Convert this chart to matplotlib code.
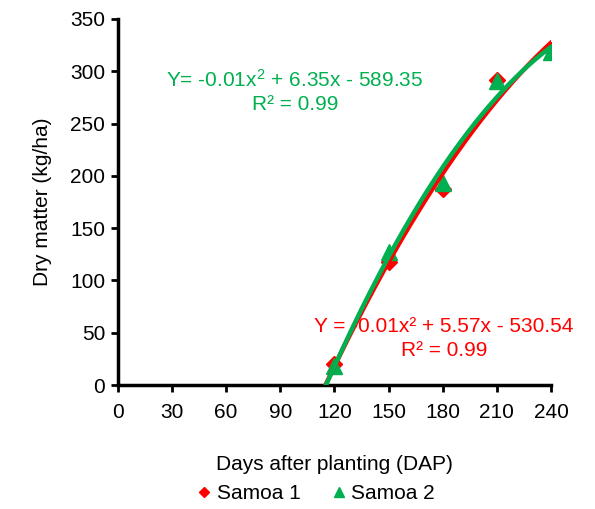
import numpy as np
import matplotlib
matplotlib.use("Agg")
import matplotlib.pyplot as plt

plt.rcParams['font.family'] = ['Liberation Sans', 'DejaVu Sans']
plt.rcParams['mathtext.fontset'] = 'custom'
plt.rcParams['mathtext.rm'] = 'Liberation Sans'
plt.rcParams['mathtext.it'] = 'Liberation Sans'
plt.rcParams['mathtext.default'] = 'regular'

days = [120, 150, 180, 210, 240]
samoa1 = [20, 118, 187, 292, 320]
samoa2 = [18, 127, 193, 291, 318]
x_ticks = [0, 30, 60, 90, 120, 150, 180, 210, 240]
y_ticks = [0, 50, 100, 150, 200, 250, 300, 350]

red = '#FF0000'
green = '#00B050'
fs = 15

fig = plt.figure(figsize=(5.95, 5.09), dpi=100)
ax = fig.add_axes([0.198, 0.2436, 0.728, 0.7191])


def trend(xs, ys):
    coef = np.polyfit(xs, ys, 2)
    roots = np.roots(coef)
    roots = roots[np.isreal(roots)].real
    start = max(r for r in roots if r < min(xs))
    xx = np.linspace(start, max(xs), 200)
    return xx, np.polyval(coef, xx)


ax.plot(days, samoa1, linestyle='none', marker='D', ms=8, color=red, label='Samoa 1', zorder=3)
ax.plot(days, samoa2, linestyle='none', marker='^', ms=11, color=green, label='Samoa 2', zorder=3)
tx, ty = trend(days, samoa1)
ax.plot(tx, ty, color=red, lw=3.2, zorder=4)
tx, ty = trend(days, samoa2)
ax.plot(tx, ty, color=green, lw=3.2, zorder=5)

ax.set_xlim(0, 240)
ax.set_ylim(0, 350)
ax.set_xticks(x_ticks)
ax.set_yticks(y_ticks)
ax.tick_params(labelsize=fs, width=2, length=5, direction='out', colors='black')
ax.tick_params(axis='x', pad=8)
ax.tick_params(axis='y', pad=4)
for s in ['top', 'right']:
    ax.spines[s].set_visible(False)
for s in ['left', 'bottom']:
    ax.spines[s].set_linewidth(2.5)
    ax.spines[s].set_color('black')
ax.spines['bottom'].set_bounds(0, 240)

ax.set_xlabel('Days after planting (DAP)', fontsize=fs, labelpad=24)
ax.set_ylabel('Dry matter (kg/ha)', fontsize=fs, labelpad=13)

ax.text(0.409, 0.802, 'Y= -0.01x$^2$ + 6.35x - 589.35\nR² = 0.99', transform=ax.transAxes,
        color=green, fontsize=fs, ha='center', va='center', linespacing=1.3, zorder=2)
ax.text(0.753, 0.127, 'Y = -0.01x² + 5.57x - 530.54\nR² = 0.99', transform=ax.transAxes,
        color=red, fontsize=fs, ha='center', va='center', linespacing=1.3, zorder=2)

leg = fig.legend(loc='center', bbox_to_anchor=(0.532, 0.03), ncol=2, frameon=False,
                 fontsize=fs, handlelength=0.6, handletextpad=0.3, columnspacing=1.55,
                 markerscale=0.65)

fig.savefig('out.png', dpi=100)
